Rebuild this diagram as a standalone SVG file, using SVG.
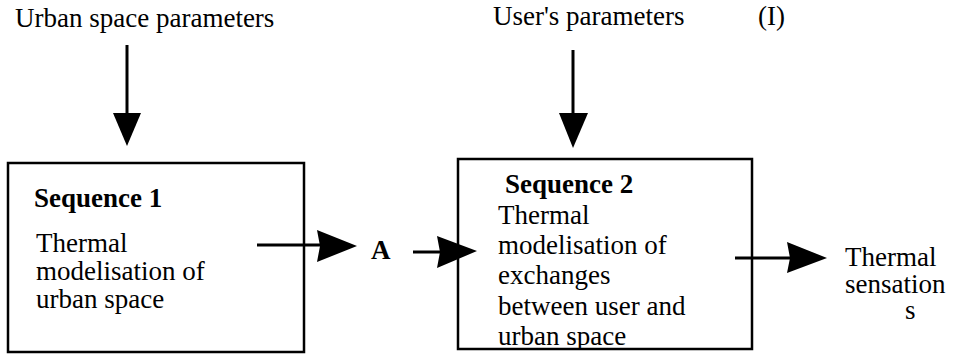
<svg xmlns="http://www.w3.org/2000/svg" width="957" height="356" viewBox="0 0 957 356">
<style>
.t{font-family:"Liberation Serif","Times New Roman",serif;font-size:27px;fill:#000}
.b{font-weight:bold}
.box{fill:none;stroke:#000;stroke-width:2.5}
.sh{stroke:#000;stroke-width:3;fill:none}
.hd{fill:#000;stroke:none}
</style>
<defs>
<clipPath id="c2"><rect x="458" y="158" width="294" height="190"/></clipPath>
</defs>
<rect width="957" height="356" fill="#fff"/>
<g id="urban-params"><text class="t" x="15" y="27">Urban space parameters</text></g>
<g id="user-params"><text class="t" x="493" y="25">User's parameters</text></g>
<g id="label-I"><text class="t" x="758" y="25">(I)</text></g>
<g id="seq1">
<rect class="box" x="8" y="163" width="296" height="189"/>
<text class="t b" x="34" y="207">Sequence 1</text>
<text class="t" x="36" y="252">Thermal</text>
<text class="t" x="36" y="280">modelisation of</text>
<text class="t" x="36" y="308">urban space</text>
</g>
<g id="A"><text class="t b" x="371" y="259">A</text></g>
<g id="seq2">
<rect class="box" x="458" y="159" width="294" height="190"/>
<g clip-path="url(#c2)">
<text class="t b" x="505" y="193">Sequence 2</text>
<text class="t" x="498" y="224">Thermal</text>
<text class="t" x="498" y="254">modelisation of</text>
<text class="t" x="498" y="284">exchanges</text>
<text class="t" x="498" y="315">between user and</text>
<text class="t" x="498" y="345">urban space</text>
</g>
</g>
<g id="sensations">
<text class="t" x="845" y="266">Thermal</text>
<text class="t" x="845" y="293">sensation</text>
<text class="t" x="905" y="319">s</text>
</g>
<g id="connectors">
<line class="sh" x1="127" y1="45" x2="127" y2="116"/>
<polygon class="hd" points="113,113 141,113 127,146"/>
<line class="sh" x1="573" y1="50" x2="573" y2="116"/>
<polygon class="hd" points="559,113 588,113 573,148"/>
<line class="sh" x1="257" y1="245" x2="320" y2="245" stroke-width="4"/>
<polygon class="hd" points="317,230 357,246 317,262 320,246"/>
<line class="sh" x1="413" y1="252" x2="440" y2="252" stroke-width="4"/>
<polygon class="hd" points="437,236 477,251 437,268 440,252"/>
<line class="sh" x1="735" y1="258" x2="790" y2="258" stroke-width="4"/>
<polygon class="hd" points="787,242 827,258 787,273 790,258"/>
</g>
</svg>
